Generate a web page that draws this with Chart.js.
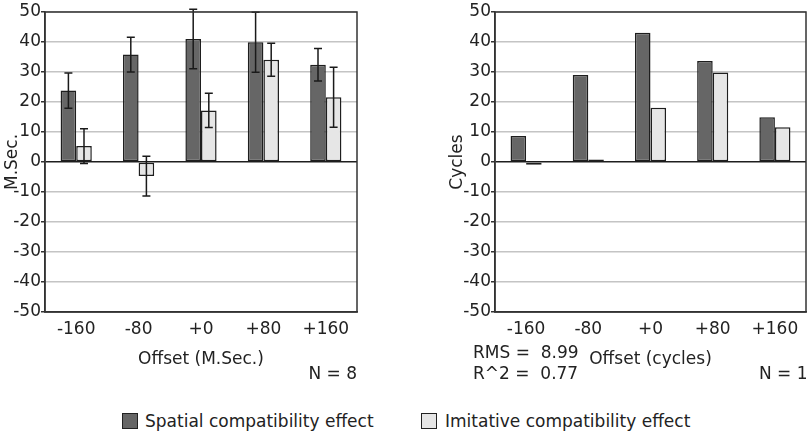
<!DOCTYPE html>
<html>
<head>
<meta charset="utf-8">
<script src="https://cdn.jsdelivr.net/npm/chart.js@4.4.1/dist/chart.umd.min.js"></script>
<style>
  html, body { margin:0; padding:0; width:807px; height:436px; overflow:hidden; background:#fff; }
  body { position:relative; font-family:"DejaVu Sans", sans-serif; color:#222; }
  canvas { position:absolute; top:0; }
  .t { position:absolute; font-size:17px; line-height:20px; white-space:pre; color:#222; }
  .box { position:absolute; width:14px; height:14px; border:1px solid #222; }
</style>
</head>
<body>
<canvas id="c1" width="360" height="370" style="left:0;width:360px;height:370px"></canvas>
<canvas id="c2" width="365" height="370" style="left:445px;width:365px;height:370px"></canvas>

<div class="t" style="right:450px;top:363px;">N = 8</div>
<div class="t" style="left:473px;top:342px;">RMS =  8.99</div>
<div class="t" style="left:473px;top:363px;">R^2 =  0.77</div>
<div class="t" style="left:759px;top:363px;">N = 1</div>

<div class="box" style="left:122px;top:413px;background:#666;"></div>
<div class="t" style="left:145px;top:411px;">Spatial compatibility effect</div>
<div class="box" style="left:421px;top:413px;background:#e6e6e6;"></div>
<div class="t" style="left:445px;top:411px;">Imitative compatibility effect</div>

<script>
const categories = ['-160', '-80', '+0', '+80', '+160'];
const seriesNames = ['Spatial compatibility effect', 'Imitative compatibility effect'];

// Left panel (M.Sec.)
const spatialMs = [23.8, 35.8, 41.0, 39.9, 32.4];
const spatialMsErr = [5.9, 5.8, 9.9, 10.0, 5.4];
const imitativeMs = [5.3, -4.7, 17.2, 34.1, 21.6];
const imitativeMsErr = [5.8, 6.6, 5.7, 5.5, 10.0];

// Right panel (cycles)
const spatialCycles = [8.7, 29.0, 43.1, 33.7, 14.9];
const imitativeCycles = [-0.9, 0.8, 18.1, 29.8, 11.6];

const yTicks = [-50, -40, -30, -20, -10, 0, 10, 20, 30, 40, 50];

const FONT = { family: '"DejaVu Sans", sans-serif', size: 17 };

const framePlugin = {
  id: 'frame',
  afterDraw(chart) {
    const a = chart.chartArea, ctx = chart.ctx;
    ctx.save();
    ctx.strokeStyle = '#333';
    ctx.lineWidth = 1.5;
    ctx.strokeRect(a.left, a.top, a.right - a.left, a.bottom - a.top);
    ctx.restore();
  }
};

const errorBarPlugin = {
  id: 'errbars',
  afterDatasetsDraw(chart) {
    const errs = chart.options.plugins.errbars && chart.options.plugins.errbars.errors;
    if (!errs) return;
    const ctx = chart.ctx, y = chart.scales.y;
    ctx.save();
    ctx.strokeStyle = '#1a1a1a';
    ctx.lineWidth = 1.5;
    chart.data.datasets.forEach((ds, i) => {
      const meta = chart.getDatasetMeta(i);
      meta.data.forEach((bar, j) => {
        const v = ds.data[j], e = errs[i][j];
        const x = bar.x;
        const yt = y.getPixelForValue(v + e), yb = y.getPixelForValue(v - e);
        ctx.beginPath();
        ctx.moveTo(x, yt); ctx.lineTo(x, yb);
        ctx.moveTo(x - 4, yt); ctx.lineTo(x + 4, yt);
        ctx.moveTo(x - 4, yb); ctx.lineTo(x + 4, yb);
        ctx.stroke();
      });
    });
    ctx.restore();
  }
};

function makeChart(id, dark, light, errors, yTitle, xTitle, yWidth, padRight) {
  return new Chart(document.getElementById(id), {
    type: 'bar',
    data: {
      labels: categories,
      datasets: [
        { label: seriesNames[0], data: dark, backgroundColor: '#666666', borderColor: '#1e1e1e', borderWidth: 1.5, borderSkipped: false },
        { label: seriesNames[1], data: light, backgroundColor: '#e6e6e6', borderColor: '#1e1e1e', borderWidth: 1.5, borderSkipped: false }
      ]
    },
    options: {
      responsive: false,
      animation: false,
      devicePixelRatio: 1,
      layout: { padding: { top: 12, right: padRight, left: 0, bottom: 0 } },
      plugins: {
        legend: { display: false },
        tooltip: { enabled: false },
        errbars: { errors: errors }
      },
      datasets: { bar: { categoryPercentage: 0.5, barPercentage: 1.0 } },
      scales: {
        x: {
          grid: { display: false, drawTicks: false },
          border: { display: true, color: '#333', width: 1.5 },
          ticks: { font: FONT, color: '#222', padding: 7, maxRotation: 0 },
          title: { display: true, text: xTitle, font: FONT, color: '#222', padding: 0 },
          afterFit(s) { s.height = 58; }
        },
        y: {
          min: -50, max: 50,
          afterBuildTicks(s) { s.ticks = yTicks.map(v => ({ value: v })); },
          grid: {
            color: c => (c.tick && c.tick.value === 0) ? '#1e1e1e' : '#c4c4c4',
            lineWidth: 1.5,
            tickColor: '#333',
            tickLength: 4
          },
          border: { display: true, color: '#333', width: 1.5 },
          ticks: { font: FONT, color: '#222', padding: 0 },
          title: { display: true, text: yTitle, font: FONT, color: '#222', padding: { top: 2, bottom: 0 } },
          afterFit(s) { s.width = yWidth; }
        }
      }
    },
    plugins: [errorBarPlugin, framePlugin]
  });
}

makeChart('c1', spatialMs, imitativeMs, [spatialMsErr, imitativeMsErr], 'M.Sec.', 'Offset (M.Sec.)', 45, 3);
makeChart('c2', spatialCycles, imitativeCycles, null, 'Cycles', 'Offset (cycles)', 50, 4);
</script>
</body>
</html>
